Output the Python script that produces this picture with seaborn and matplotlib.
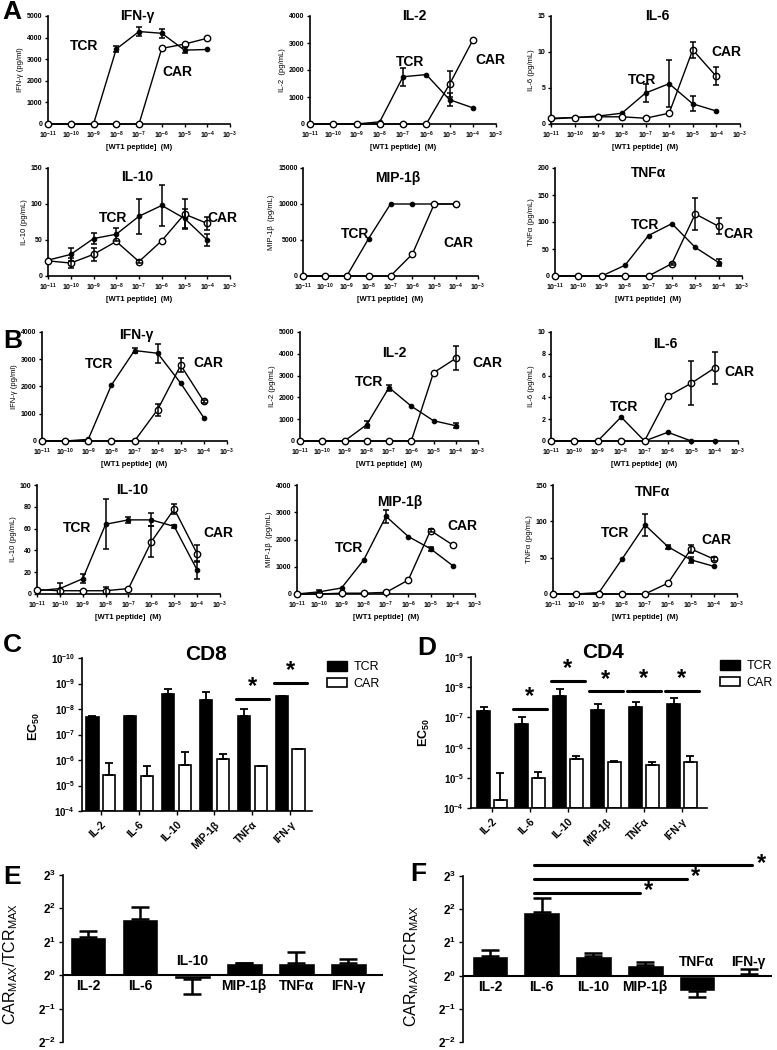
import numpy as np
import pandas as pd
import seaborn as sns
import matplotlib.pyplot as plt
from matplotlib.patches import Patch
from matplotlib.ticker import NullLocator

sns.set_theme(style="ticks")
plt.rcParams['font.family'] = ['Liberation Sans', 'DejaVu Sans']
plt.rcParams['mathtext.fontset'] = 'custom'
plt.rcParams['mathtext.rm'] = 'Liberation Sans'
plt.rcParams['mathtext.bf'] = 'Liberation Sans:bold'
plt.rcParams['mathtext.it'] = 'Liberation Sans:italic'

INK = 'black'

# WT1 peptide concentrations (M)
conc = [1e-11, 1e-10, 1e-9, 1e-8, 1e-7, 1e-6, 1e-5, 1e-4]

# panel A (CD8)
A_ifng_tcr = [0, 0, 0, 3470, 4280, 4200, 3420, 3450]
A_ifng_tcr_err = [0, 0, 0, 120, 200, 200, 150, 0]
A_ifng_car = [0, 0, 0, 0, 0, 3500, 3700, 3970]
A_ifng_car_err = [0, 0, 0, 0, 0, 0, 0, 0]
A_il2_tcr = [0, 0, 0, 80, 1750, 1830, 900, 600]
A_il2_tcr_err = [0, 0, 0, 0, 330, 0, 230, 0]
A_il2_car = [0, 0, 0, 0, 0, 0, 1470, 3100]
A_il2_car_err = [0, 0, 0, 0, 0, 0, 480, 0]
A_il6_tcr = [0.7, 0.9, 1.1, 1.5, 4.3, 5.6, 2.8, 1.8]
A_il6_tcr_err = [0, 0, 0, 0, 1.2, 3.3, 1.05, 0]
A_il6_car = [0.8, 0.9, 1.0, 1.0, 0.8, 1.5, 10.3, 6.6]
A_il6_car_err = [0, 0, 0, 0, 0, 0, 1.1, 1.25]
A_il10_tcr = [22, 30, 52, 58, 83, 98, 80, 50]
A_il10_tcr_err = [0, 9, 8, 9, 24, 28, 13, 8]
A_il10_car = [21, 18, 30, 48, 20, 49, 86, 73]
A_il10_car_err = [0, 7, 9, 0, 2, 0, 21, 9]
A_mip_tcr = [0, 0, 0, 5200, 10000, 10000, 10000, 10000]
A_mip_tcr_err = [0, 0, 0, 0, 0, 0, 0, 0]
A_mip_car = [0, 0, 0, 0, 0, 3050, 10000, 10000]
A_mip_car_err = [0, 0, 0, 0, 0, 0, 0, 0]
A_tnf_tcr = [0, 0, 0, 20, 75, 97, 53, 25]
A_tnf_tcr_err = [0, 0, 0, 0, 0, 0, 0, 7]
A_tnf_car = [0, 0, 0, 0, 0, 23, 115, 92]
A_tnf_car_err = [0, 0, 0, 0, 0, 2, 29, 15]

# panel B (CD4)
B_ifng_tcr = [0, 0, 60, 2050, 3320, 3220, 2120, 850]
B_ifng_tcr_err = [0, 0, 0, 0, 100, 350, 0, 0]
B_ifng_car = [0, 0, 0, 0, 0, 1150, 2780, 1450]
B_ifng_car_err = [0, 0, 0, 0, 0, 220, 250, 70]
B_il2_tcr = [0, 0, 0, 750, 2450, 1600, 930, 700]
B_il2_tcr_err = [0, 0, 0, 170, 140, 0, 0, 120]
B_il2_car = [0, 0, 0, 0, 0, 0, 3130, 3790]
B_il2_car_err = [0, 0, 0, 0, 0, 0, 0, 550]
B_il6_tcr = [0, 0, 0, 2.2, 0, 0.8, 0, 0]
B_il6_tcr_err = [0, 0, 0, 0, 0, 0, 0, 0]
B_il6_car = [0, 0, 0, 0, 0, 4.1, 5.3, 6.7]
B_il6_car_err = [0, 0, 0, 0, 0, 0, 2.0, 1.5]
B_il10_tcr = [3, 5, 14, 64, 68, 68, 62, 22]
B_il10_tcr_err = [0, 5, 4, 23, 3, 6, 1, 8]
B_il10_car = [4, 3, 3, 3, 5, 48, 78, 37]
B_il10_car_err = [0, 0, 0, 3, 0, 14, 5, 8]
B_mip_tcr = [0, 80, 220, 1250, 2850, 2110, 1660, 1040]
B_mip_tcr_err = [0, 60, 0, 0, 250, 0, 70, 0]
B_mip_car = [0, 0, 30, 30, 60, 510, 2330, 1800]
B_mip_car_err = [0, 0, 0, 0, 0, 0, 50, 0]
B_tnf_tcr = [0, 0, 2, 48, 95, 65, 47, 38]
B_tnf_tcr_err = [0, 0, 0, 0, 15, 3, 4, 0]
B_tnf_car = [0, 0, 0, 0, 0, 15, 62, 48]
B_tnf_car_err = [0, 0, 0, 0, 0, 0, 5, 3]

# panels C-F
cytokines = ['IL-2', 'IL-6', 'IL-10', 'MIP-1β', 'TNFα', 'IFN-γ']
C_tcr = [2.1e-8, 1.9e-8, 2.6e-9, 4.4e-9, 1.9e-8, 3.2e-9]
C_tcr_tip = [1.8e-8, 1.9e-8, 1.7e-9, 2.2e-9, 1.0e-8, 3.0e-9]
C_car = [3.9e-6, 4.3e-6, 1.6e-6, 9.5e-7, 1.7e-6, 3.7e-7]
C_car_tip = [1.35e-6, 1.7e-6, 4.8e-7, 5.9e-7, 1.65e-6, 3.6e-7]
C_sig = [4, 5]
C_sig_y = [3.9e-9, 9.3e-10]
D_tcr = [6.0e-8, 1.66e-7, 2.0e-8, 5.6e-8, 4.5e-8, 3.6e-8]
D_tcr_tip = [4.4e-8, 1.0e-7, 1.15e-8, 3.5e-8, 3.0e-8, 2.2e-8]
D_car = [5.6e-5, 9.8e-6, 2.4e-6, 2.95e-6, 3.9e-6, 3.0e-6]
D_car_tip = [7.2e-6, 6.3e-6, 1.86e-6, 2.8e-6, 3.1e-6, 1.9e-6]
D_sig = [1, 2, 3, 4, 5]
D_sig_y = [5.2e-8, 6.0e-9, 1.38e-8, 1.29e-8, 1.29e-8]
E_ratio = [2.22, 3.20, 0.93, 1.30, 1.30, 1.30]
E_tip = [2.51, 4.08, 0.67, 1.30, 1.62, 1.41]
E_above = [False, False, True, False, False, False]
F_ratio = [1.49, 3.81, 1.49, 1.26, 0.73, 1.035]
F_tip = [1.71, 5.10, 1.60, 1.34, 0.64, 1.14]
F_above = [False, False, False, False, True, True]
F_sig_end = [2.9, 3.81, 5.07]
F_sig_y = [5.66, 7.57, 10.1]

W, H = 777, 1050
fig = plt.figure(figsize=(W / 100, H / 100), dpi=100)


def box(l, t, r, b):
    return fig.add_axes([l / W, 1 - b / H, (r - l) / W, (b - t) / H])


def style(ax):
    sns.despine(ax=ax)
    for s in ['left', 'bottom']:
        ax.spines[s].set_linewidth(1.2)
        ax.spines[s].set_color(INK)
    ax.tick_params(colors=INK, labelcolor=INK, width=1, length=3, direction='out')


def dose_panel(rect, title, tpos, ylabel, yticks, tcr, tcr_err, car, car_err, tcr_xy, car_xy):
    ax = box(*rect)
    ax.set_xscale('log')
    df = pd.DataFrame({'conc': conc, 'TCR': tcr, 'CAR': car})
    sns.lineplot(data=df, x='conc', y='TCR', color=INK, lw=1, marker='o', ms=3.3,
                 mfc=INK, mec=INK, ax=ax, clip_on=False, zorder=3)
    sns.lineplot(data=df, x='conc', y='CAR', color=INK, lw=1, marker='o', ms=4.6,
                 mfc='white', mec=INK, mew=1, ax=ax, clip_on=False, zorder=4)
    for vals, err in [(tcr, tcr_err), (car, car_err)]:
        e = np.array(err, float)
        m = e > 0
        if m.any():
            ax.errorbar(np.array(conc)[m], np.array(vals, float)[m], yerr=e[m], fmt='none',
                        ecolor=INK, elinewidth=1.1, capsize=2, capthick=1.1, zorder=5)
    ax.set_xlim(1e-11, 1e-3)
    ax.set_ylim(yticks[0], yticks[-1])
    ax.set_xticks(10.0 ** np.arange(-11, -2))
    ax.set_xticklabels([r'$\mathbf{10^{%d}}$' % p for p in range(-11, -2)])
    ax.xaxis.set_minor_locator(NullLocator())
    ax.set_yticks(yticks)
    ax.set_yticklabels([str(v) for v in yticks], fontweight='bold')
    style(ax)
    ax.tick_params(labelsize=5, pad=1.5, length=2.5)
    ax.set_xlabel('[WT1 peptide]  (M)', fontsize=5.5, fontweight='bold', labelpad=2, color=INK)
    ax.set_ylabel(ylabel, fontsize=5.5, labelpad=2, color=INK)
    ax.text(tpos[0], tpos[1], title, transform=ax.transAxes, ha='center', va='center',
            fontsize=10, fontweight='bold', color=INK)
    ax.text(*tcr_xy, 'TCR', transform=ax.transAxes, ha='center', va='center',
            fontsize=10, fontweight='bold', color=INK)
    ax.text(*car_xy, 'CAR', transform=ax.transAxes, ha='center', va='center',
            fontsize=10, fontweight='bold', color=INK)
    return ax


# ---- A ----
dose_panel((48, 16, 230, 124), 'IFN-γ', (0.49, 1.0), 'IFN-γ (pg/ml)', [0, 1000, 2000, 3000, 4000, 5000],
           A_ifng_tcr, A_ifng_tcr_err, A_ifng_car, A_ifng_car_err, (0.20, 0.72), (0.71, 0.48))
dose_panel((310, 16, 496, 124), 'IL-2', (0.56, 1.0), 'IL-2  (pg/mL)', [0, 1000, 2000, 3000, 4000],
           A_il2_tcr, A_il2_tcr_err, A_il2_car, A_il2_car_err, (0.54, 0.57), (0.97, 0.59))
dose_panel((551, 16, 740, 124), 'IL-6', (0.56, 1.0), 'IL-6 (pg/mL)', [0, 5, 10, 15],
           A_il6_tcr, A_il6_tcr_err, A_il6_car, A_il6_car_err, (0.48, 0.41), (0.93, 0.67))
dose_panel((48, 168, 230, 276), 'IL-10', (0.49, 0.92), 'IL-10 (pg/mL)', [0, 50, 100, 150],
           A_il10_tcr, A_il10_tcr_err, A_il10_car, A_il10_car_err, (0.36, 0.54), (0.96, 0.54))
dose_panel((303, 168, 478, 276), 'MIP-1β', (0.54, 0.91), 'MIP-1β  (pg/mL)', [0, 5000, 10000, 15000],
           A_mip_tcr, A_mip_tcr_err, A_mip_car, A_mip_car_err, (0.30, 0.39), (0.89, 0.31))
dose_panel((555, 168, 742, 276), 'TNFα', (0.50, 0.95), 'TNFα (pg/mL)', [0, 50, 100, 150, 200],
           A_tnf_tcr, A_tnf_tcr_err, A_tnf_car, A_tnf_car_err, (0.48, 0.47), (0.98, 0.39))

# ---- B ----
dose_panel((42, 332, 227, 441), 'IFN-γ', (0.51, 0.97), 'IFN-γ (pg/ml)', [0, 1000, 2000, 3000, 4000],
           B_ifng_tcr, B_ifng_tcr_err, B_ifng_car, B_ifng_car_err, (0.31, 0.71), (0.90, 0.72))
dose_panel((300, 332, 478, 441), 'IL-2', (0.53, 0.81), 'IL-2 (pg/mL)', [0, 1000, 2000, 3000, 4000, 5000],
           B_il2_tcr, B_il2_tcr_err, B_il2_car, B_il2_car_err, (0.39, 0.54), (1.05, 0.72))
dose_panel((551, 332, 738, 441), 'IL-6', (0.61, 0.89), 'IL-6 (pg/mL)', [0, 2, 4, 6, 8, 10],
           B_il6_tcr, B_il6_tcr_err, B_il6_car, B_il6_car_err, (0.39, 0.31), (1.01, 0.63))
dose_panel((37, 485, 220, 594), 'IL-10', (0.52, 0.95), 'IL-10 (pg/mL)', [0, 20, 40, 60, 80, 100],
           B_il10_tcr, B_il10_tcr_err, B_il10_car, B_il10_car_err, (0.22, 0.61), (0.99, 0.56))
dose_panel((297, 485, 475, 594), 'MIP-1β', (0.58, 0.84), 'MIP-1β  (pg/mL)', [0, 1000, 2000, 3000, 4000],
           B_mip_tcr, B_mip_tcr_err, B_mip_car, B_mip_car_err, (0.29, 0.42), (0.93, 0.62))
dose_panel((553, 485, 737, 594), 'TNFα', (0.54, 0.94), 'TNFα (pg/mL)', [0, 50, 100, 150],
           B_tnf_tcr, B_tnf_tcr_err, B_tnf_car, B_tnf_car_err, (0.34, 0.56), (0.89, 0.50))


def ec50_panel(rect, ytop, tcr, tcr_tip, car, car_tip, sig, sig_y, title, title_xy, lab_xy, leg_xy, xlim):
    ax = box(*rect)
    ax.set_yscale('log')
    base = 1e-4
    x = np.arange(len(cytokines))
    tcr, tcr_tip = np.array(tcr), np.array(tcr_tip)
    car, car_tip = np.array(car), np.array(car_tip)
    ax.bar(x - 0.22, tcr - base, bottom=base, width=0.33, color=INK, edgecolor=INK, lw=1.2, zorder=2)
    ax.bar(x + 0.22, car - base, bottom=base, width=0.33, color='white', edgecolor=INK, lw=1.2, zorder=2)
    z = np.zeros(len(x))
    ax.errorbar(x - 0.22, tcr, yerr=[tcr - tcr_tip, z], fmt='none', ecolor=INK,
                elinewidth=1.3, capsize=3, capthick=1.3, zorder=3)
    ax.errorbar(x + 0.22, car, yerr=[car - car_tip, z], fmt='none', ecolor=INK,
                elinewidth=1.3, capsize=3, capthick=1.3, zorder=3)
    for i, y in zip(sig, sig_y):
        ax.plot([i - 0.44, i + 0.44], [y, y], color=INK, lw=2.2, clip_on=False)
        ax.annotate('*', (i, y), xytext=(0, 0.5), textcoords='offset points', ha='center',
                    va='bottom', fontsize=17, fontweight='bold', color=INK, annotation_clip=False)
    ax.set_ylim(base, ytop)
    ax.set_xlim(*xlim)
    ax.yaxis.set_minor_locator(NullLocator())
    exps = list(range(int(round(np.log10(ytop))), -3))
    ax.set_yticks(10.0 ** np.array(exps))
    ax.set_yticklabels([r'$\mathbf{10^{%d}}$' % p for p in exps])
    ax.set_xticks(x)
    ax.set_xticklabels(cytokines, rotation=45, ha='right', rotation_mode='anchor',
                       fontweight='bold', fontsize=7.5)
    style(ax)
    ax.tick_params(axis='y', labelsize=7, pad=2)
    ax.tick_params(axis='x', pad=3)
    ax.set_ylabel(r'$\mathbf{EC_{50}}$', fontsize=9, color=INK)
    ax.yaxis.set_label_coords(*lab_xy)
    ax.text(*title_xy, title, transform=ax.transAxes, ha='center', va='center',
            fontsize=15, fontweight='bold', color=INK)
    handles = [Patch(facecolor=INK, edgecolor=INK, label='TCR'),
               Patch(facecolor='white', edgecolor=INK, lw=1.2, label='CAR')]
    ax.legend(handles=handles, loc='upper left', bbox_to_anchor=(leg_xy[0] / W, 1 - leg_xy[1] / H),
              bbox_transform=fig.transFigure, frameon=False, fontsize=9, handlelength=1.6,
              handleheight=0.8, borderaxespad=0, borderpad=0, labelspacing=0.35, handletextpad=0.5,
              labelcolor=INK)
    return ax


ec50_panel((82, 658, 312, 811), 1e-10, C_tcr, C_tcr_tip, C_car, C_car_tip, C_sig, C_sig_y,
           'CD8', (0.54, 1.02), (-0.175, 0.55), (327, 661), (-0.49, 5.57))
ec50_panel((471, 657, 707, 808), 1e-9, D_tcr, D_tcr_tip, D_car, D_car_tip, D_sig, D_sig_y,
           'CD4', (0.56, 1.03), (-0.165, 0.50), (720, 660), (-0.55, 5.66))


def ratio_panel(rect, ratio, tip, above, xlim, lab_xy):
    ax = box(*rect)
    ax.set_yscale('log', base=2)
    x = np.arange(len(cytokines))
    v, t = np.array(ratio), np.array(tip)
    ax.bar(x, v - 1, bottom=1, width=0.71, color=INK, zorder=2)
    up = np.where(v >= 1, t - v, 0)
    lo = np.where(v < 1, v - t, 0)
    ax.errorbar(x, v, yerr=[lo, up], fmt='none', ecolor=INK, elinewidth=1.8,
                capsize=6.5, capthick=1.8, zorder=3)
    ax.axhline(1, color=INK, lw=1.5, zorder=4)
    for i, (name, ab) in enumerate(zip(cytokines, above)):
        ax.annotate(name, (i, 1), xytext=(0, 5 if ab else -3), textcoords='offset points',
                    ha='center', va='bottom' if ab else 'top', fontsize=10, fontweight='bold',
                    color=INK)
    ax.set_ylim(0.25, 8)
    ax.set_xlim(*xlim)
    ax.yaxis.set_minor_locator(NullLocator())
    ax.set_yticks(2.0 ** np.arange(-2, 4))
    ax.set_yticklabels([r'$\mathbf{2^{%d}}$' % p for p in range(-2, 4)])
    ax.set_xticks([])
    style(ax)
    ax.spines['bottom'].set_visible(False)
    ax.tick_params(axis='y', labelsize=8.5, pad=2)
    ax.set_ylabel(r'CAR$_{\mathregular{MAX}}$/TCR$_{\mathregular{MAX}}$', fontsize=11.5, color=INK)
    ax.yaxis.set_label_coords(*lab_xy)
    return ax


ratio_panel((63, 875, 383, 1042), E_ratio, E_tip, E_above, (-0.48, 5.67), (-0.135, 0.47))
axF = ratio_panel((463, 876, 772, 1042), F_ratio, F_tip, F_above, (-0.52, 5.45), (-0.135, 0.46))
for end, y in zip(F_sig_end, F_sig_y):
    axF.plot([0.85, end], [y, y], color=INK, lw=2.2, clip_on=False)
    axF.annotate('*', (end, y), xytext=(3, -7), textcoords='offset points', ha='left',
                 va='bottom', fontsize=17, fontweight='bold', color=INK, annotation_clip=False)

for letter, (px, py) in zip('ABCDEF', [(12, 12), (13, 341), (12, 645), (427, 648), (12, 877), (418, 874)]):
    fig.text(px / W, 1 - py / H, letter, ha='center', va='center', fontsize=19, fontweight='bold',
             color=INK)

fig.savefig('out.png', dpi=100)
